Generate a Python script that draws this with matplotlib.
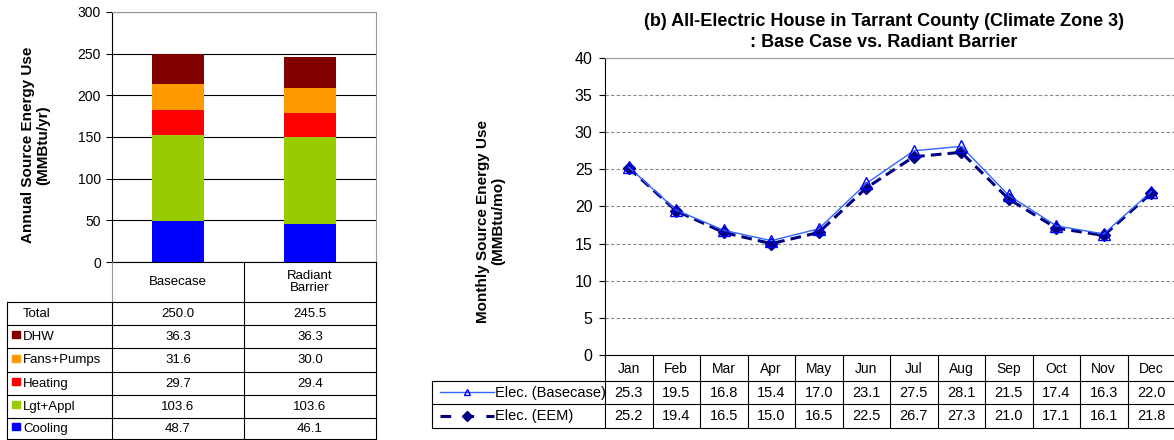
import numpy as np
import matplotlib.pyplot as plt
from matplotlib.lines import Line2D
from matplotlib.patches import Rectangle
from matplotlib.transforms import Affine2D

# annual end uses (MMBtu/yr)
cases = ["Basecase", "Radiant\nBarrier"]
cooling = [48.7, 46.1]
lgt_appl = [103.6, 103.6]
heating = [29.7, 29.4]
fans_pumps = [31.6, 30.0]
dhw = [36.3, 36.3]
totals = [250.0, 245.5]
colors = {"Cooling": "#0000FF", "Lgt+Appl": "#99CC00", "Heating": "#FF0000",
          "Fans+Pumps": "#FF9900", "DHW": "#800000"}

# monthly (MMBtu/mo)
months = ["Jan", "Feb", "Mar", "Apr", "May", "Jun", "Jul", "Aug", "Sep", "Oct", "Nov", "Dec"]
elec_base = [25.3, 19.5, 16.8, 15.4, 17.0, 23.1, 27.5, 28.1, 21.5, 17.4, 16.3, 22.0]
elec_eem = [25.2, 19.4, 16.5, 15.0, 16.5, 22.5, 26.7, 27.3, 21.0, 17.1, 16.1, 21.8]

W, H = 1174, 440
fig = plt.figure(figsize=(W / 100, H / 100), dpi=100)
plt.rcParams['font.family'] = ['Liberation Sans', 'DejaVu Sans']
pix = Affine2D().scale(1 / W, -1 / H).translate(0, 1) + fig.transFigure


def box(x0, x1, y0, y1):
    return [x0 / W, 1 - y1 / H, (x1 - x0) / W, (y1 - y0) / H]


def hline(x0, x1, y, color="black", lw=0.8):
    fig.add_artist(Line2D([x0, x1], [y, y], transform=pix, color=color, lw=lw))


def vline(x, y0, y1, color="black", lw=0.8):
    fig.add_artist(Line2D([x, x], [y0, y1], transform=pix, color=color, lw=lw))


def ptext(x, y, s, **kw):
    kw.setdefault("ha", "center")
    kw.setdefault("va", "center")
    fig.text(x / W, 1 - y / H, s, **kw)


# ---------- left: stacked bars ----------
ax1 = fig.add_axes(box(112, 376, 12, 262))
x = np.arange(len(cases))
stack = [("Cooling", cooling), ("Lgt+Appl", lgt_appl), ("Heating", heating),
         ("Fans+Pumps", fans_pumps), ("DHW", dhw)]
bottom = np.zeros(len(cases))
for name, vals in stack:
    ax1.bar(x, vals, 0.394, bottom=bottom, color=colors[name], zorder=3)
    bottom += np.array(vals)
ax1.set_xlim(-0.5, 1.5)
ax1.set_ylim(0, 300)
ax1.set_yticks(range(0, 301, 50))
ax1.set_xticks([])
ax1.yaxis.grid(True, color="black", lw=0.8)
ax1.tick_params(axis="y", labelsize=10, length=4, width=0.8, pad=4)
for s in ["top", "right"]:
    ax1.spines[s].set_color("#999999")
ptext(36, 145, "Annual Source Energy Use\n(MMBtu/yr)", rotation=90, fontsize=11,
      fontweight="bold", linespacing=1.1)

# left table
cols = [7, 112, 244, 376]
rows = [262, 302, 325, 348, 372, 395, 418, 439]
vline(112, 262, 302, color="#999999")
for c in cols[2:]:
    vline(c, 262, 302)
for i, c in enumerate(cases):
    ptext((cols[i + 1] + cols[i + 2]) / 2, 282, c, fontsize=9.5, linespacing=1.1)
for r in rows[1:]:
    hline(7, 376, r)
for c in cols:
    vline(c, 302, 439)
table_rows = [("Total", totals), ("DHW", dhw), ("Fans+Pumps", fans_pumps),
              ("Heating", heating), ("Lgt+Appl", lgt_appl), ("Cooling", cooling)]
for k, (name, vals) in enumerate(table_rows):
    yc = (rows[k + 1] + rows[k + 2]) / 2
    if name in colors:
        fig.add_artist(Rectangle((12, yc - 5), 8, 7, transform=pix, color=colors[name]))
    ptext(23, yc, name, ha="left", fontsize=9.5)
    for j, v in enumerate(vals):
        ptext((cols[j + 1] + cols[j + 2]) / 2, yc, f"{v:.1f}", fontsize=9.5)

# ---------- right: monthly lines ----------
X0, X1 = 605, 1175
ax2 = fig.add_axes(box(X0, X1, 58, 355))
m = np.arange(len(months))
ax2.plot(m, elec_base, color="#3366FF", lw=1.0, marker="^", ms=8, mfc="none",
         mec="#0000FF", mew=1.0, zorder=4)
ax2.plot(m, elec_eem, color="#000080", lw=2.2, ls=(0, (3.5, 2)), marker="D", ms=6.5,
         mfc="#000080", mec="#000080", zorder=3)
ax2.set_xlim(-0.5, 11.5)
ax2.set_ylim(0, 40)
ax2.set_yticks(range(0, 41, 5))
ax2.set_xticks([])
ax2.yaxis.grid(True, color="#888888", ls=(0, (3, 2)), lw=0.8)
ax2.spines["top"].set_color("#999999")
ax2.spines["right"].set_visible(False)
ax2.tick_params(axis="y", length=4, width=0.8, labelsize=11.5, pad=5)
ptext(491, 221, "Monthly Source Energy Use\n(MMBtu/mo)", rotation=90, fontsize=11,
      fontweight="bold", linespacing=1.1)
ptext(884, 32, "(b) All-Electric House in Tarrant County (Climate Zone 3)\n: Base Case vs. Radiant Barrier",
      fontsize=13, fontweight="bold", linespacing=1.3)

# right table
mw = (X1 - X0) / 12
mcols = [X0 + i * mw for i in range(13)]
mrows = [355, 381, 404, 428]
for r in mrows[1:]:
    hline(432, 1174, r)
for c in mcols:
    vline(c, 355, 428)
vline(432, 381, 428)
for i, mo in enumerate(months):
    ptext((mcols[i] + mcols[i + 1]) / 2, 369, mo, fontsize=10)
for k, (vals, lab) in enumerate([(elec_base, "Elec. (Basecase)"), (elec_eem, "Elec. (EEM)")]):
    yc = (mrows[k + 1] + mrows[k + 2]) / 2
    for i, v in enumerate(vals):
        ptext((mcols[i] + mcols[i + 1]) / 2, yc, f"{v:.1f}", fontsize=10.5)
    ptext(495, yc, lab, ha="left", fontsize=10.5)
fig.add_artist(Line2D([440, 494], [392, 392], transform=pix, color="#3366FF", lw=1.0))
fig.add_artist(Line2D([467], [392], transform=pix, marker="^", ms=5, mfc="none", mec="#0000FF"))
fig.add_artist(Line2D([440, 494], [416, 416], transform=pix, color="#000080", lw=2.2,
                      ls=(0, (3.5, 4))))
fig.add_artist(Line2D([467], [416], transform=pix, marker="D", ms=5, color="#000080"))

fig.savefig("out.png", dpi=100)
